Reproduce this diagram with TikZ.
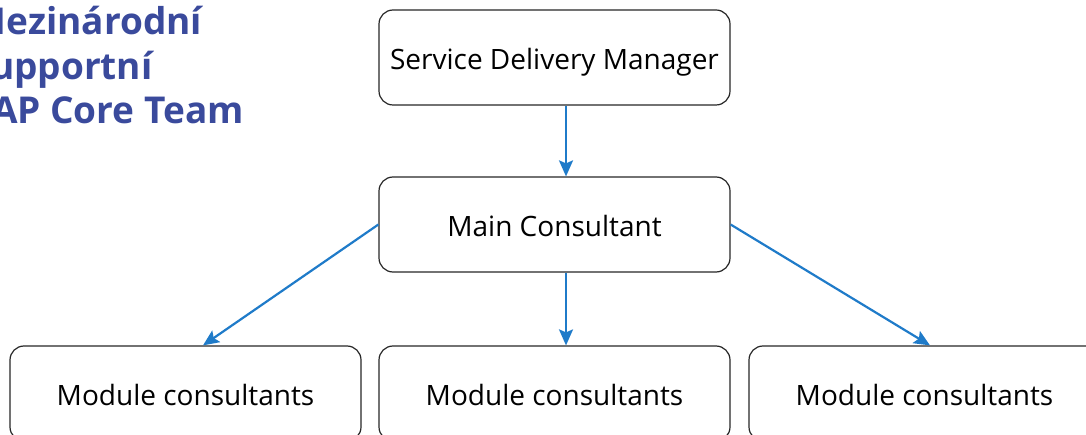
\documentclass[tikz,border=0pt]{standalone}
\usepackage{fontspec}
\setmainfont{Open Sans}
\usepackage{tikz}
\usetikzlibrary{arrows.meta,positioning}

\definecolor{titleblue}{HTML}{3A4A9C}
\definecolor{linkblue}{HTML}{1F7BC9}

\begin{document}
\begin{tikzpicture}[x=1pt,y=-1pt,on grid,node distance=167pt and 369pt,
	role/.style={draw=black!85,line width=1.2pt,rounded corners=14pt,minimum width=351pt,minimum height=95pt,text height=26pt,text depth=2pt,font=\fontsize{28}{32}\selectfont},
	link/.style={-{Stealth[length=16pt,width=14pt,inset=3pt]},draw=linkblue,line width=2.2pt}]
	\useasboundingbox (0,0) rectangle (1086,435);
	\node[anchor=north east,inner sep=0pt,align=left,text=titleblue,font=\fontsize{37}{44.5}\selectfont\bfseries] (title) at (244,6) {Mezinárodní\\supportní\\SAP Core Team};
	\node[role] (sdm) at (554.5,57.5) {Service Delivery Manager};
	\node[role] (mc) [below=of sdm] {Main Consultant};
	\node[role] (mod_2) [below=169pt of mc] {Module consultants};
	\node[role] (mod_1) [left=of mod_2] {Module consultants};
	\node[role] (mod_3) [right=370pt of mod_2] {Module consultants};
	\draw[link] ([xshift=11.5pt]sdm.south) -- ([xshift=11.5pt]mc.north);
	\draw[link] (mc.west) -- ([xshift=17.5pt]mod_1.north);
	\draw[link] ([xshift=11.5pt]mc.south) -- ([xshift=11.5pt]mod_2.north);
	\draw[link] (mc.east) -- ([xshift=5.5pt]mod_3.north);
\end{tikzpicture}
\end{document}
